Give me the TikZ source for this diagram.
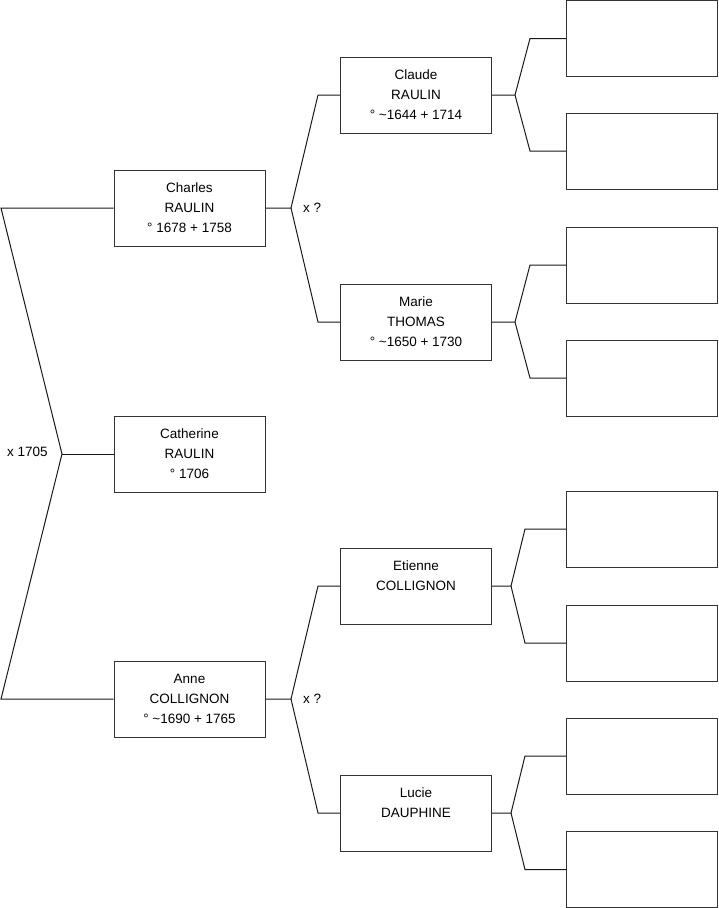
\documentclass[tikz,border=0pt]{standalone}
\usepackage{fontspec}
\setmainfont{Liberation Sans}
\usetikzlibrary{positioning}

\begin{document}
\begin{tikzpicture}[x=1pt, y=-1pt,
    person/.style={rectangle, draw=black!80, line width=1pt, minimum width=151pt, minimum height=76pt, inner sep=0pt, align=center, font=\fontsize{13.5}{20}\selectfont},
    vide/.style={rectangle, draw=black!80, line width=1pt, minimum width=151pt, minimum height=76pt},
    link/.style={draw=black!90, line width=1pt},
    mariage/.style={font=\fontsize{13.5}{20}\selectfont, anchor=west, inner sep=0pt}
]
\useasboundingbox (0,0) rectangle (719,908);

% generation 1 and 2
\node[person] (charles) at (189.5,208) {Charles\\RAULIN\\° 1678 + 1758};
\node[person] (catherine) at (189.5,454) {Catherine\\RAULIN\\° 1706};
\node[person] (anne) at (189.5,699) {Anne\\COLLIGNON\\° \textasciitilde1690 + 1765};
\node[person] (claude) at (416,95) {Claude\\RAULIN\\° \textasciitilde1644 + 1714};
\node[person] (marie) at (416,322) {Marie\\THOMAS\\° \textasciitilde1650 + 1730};
\node[person] (etienne) at (416,586) {Etienne\\COLLIGNON\\\phantom{0}};
\node[person] (lucie) at (416,813) {Lucie\\DAUPHINE\\\phantom{0}};

% empty boxes
\foreach \nom/\y in {a1/38.5, a2/151, b1/265, b2/378, c1/529, c2/643, d1/756, d2/869.5}
  \node[vide] (\nom) at (642,\y) {};

% marriage labels
\node[mariage] (m0) at (7,452) {x 1705};
\node[mariage] (m1) at (303,208) {x ?};
\node[mariage] (m2) at (303,699) {x ?};

% links
\coordinate (fcat) at (62,454);
\coordinate (bordC) at (1,208);
\coordinate (bordA) at (1,699);
\draw[link] (catherine.west) -- (fcat);
\draw[link] (charles.west) -- (bordC) -- (fcat) -- (bordA) -- (anne.west);

\foreach \enfant/\pere/\mere/\px/\bx in {charles/claude/marie/291/318, anne/etienne/lucie/291/318,
    claude/a1/a2/515/530, marie/b1/b2/515/530, etienne/c1/c2/511/525, lucie/d1/d2/511/525}{
  \draw[link] (\enfant.east) -- (\px,0 |- \enfant.east) -- (\bx,0 |- \pere.west) -- (\pere.west);
  \draw[link] (\px,0 |- \enfant.east) -- (\bx,0 |- \mere.west) -- (\mere.west);
}
\end{tikzpicture}
\end{document}
